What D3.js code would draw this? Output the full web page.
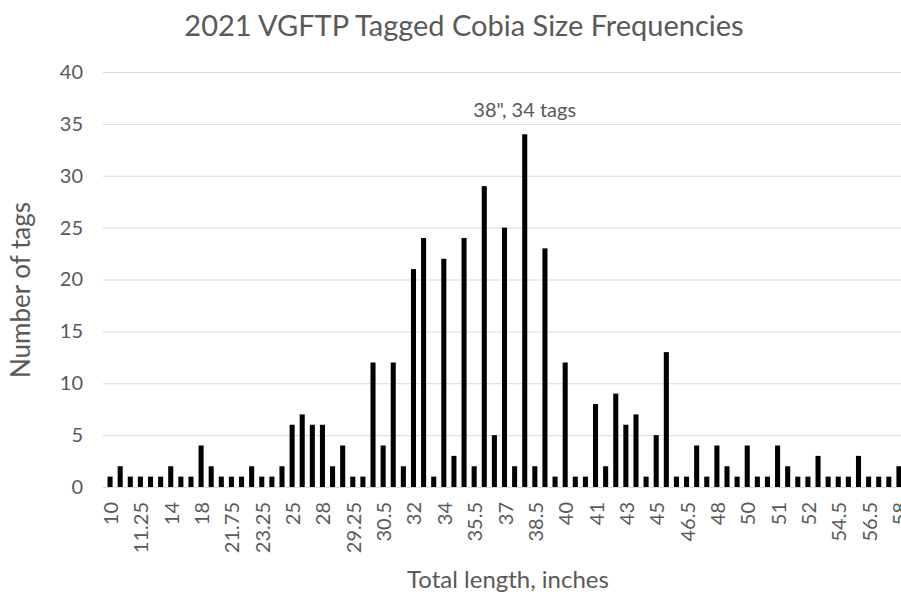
<!DOCTYPE html>
<html>
<head>
<meta charset="utf-8">
<script src="https://cdn.jsdelivr.net/npm/d3@7"></script>
<style>
  body { margin: 0; background: #fff; }
  svg text { font-family: Lato, "Open Sans", sans-serif; fill: #595959; }
</style>
</head>
<body>
<svg width="901" height="594"></svg>
<script>
// Size categories (inches); only every third one is labelled on the axis
const lengths = [
  "10", "10.5", "11", "11.25", "12", "13", "14", "15", "16", "18",
  "19", "20", "21.75", "22", "23", "23.25", "24", "24.5", "25", "26",
  "27", "28", "28.5", "29", "29.25", "29.5", "30", "30.5", "31", "31.5",
  "32", "32.5", "33", "34", "34.5", "35", "35.5", "36", "36.5", "37",
  "37.5", "38", "38.5", "39", "39.5", "40", "40.25", "40.5", "41", "41.5",
  "42", "43", "43.5", "44", "45", "45.5", "46", "46.5", "47", "47.5",
  "48", "48.5", "49", "50", "50.25", "50.5", "51", "51.25", "51.5", "52",
  "53", "54", "54.5", "55", "56", "56.5", "57", "57.5", "58"
];
const tags = [
  1, 2, 1, 1, 1, 1, 2, 1, 1, 4,
  2, 1, 1, 1, 2, 1, 1, 2, 6, 7,
  6, 6, 2, 4, 1, 1, 12, 4, 12, 2,
  21, 24, 1, 22, 3, 24, 2, 29, 5, 25,
  2, 34, 2, 23, 1, 12, 1, 1, 8, 2,
  9, 6, 7, 1, 5, 13, 1, 1, 4, 1,
  4, 2, 1, 4, 1, 1, 4, 2, 1, 1,
  3, 1, 1, 1, 3, 1, 1, 1, 2
];
const yTicks = [0, 5, 10, 15, 20, 25, 30, 35, 40];
const peak = { length: "38", count: 34, label: "38\", 34 tags" };

const svg = d3.select("svg");
const plotLeft = 105, plotRight = 904, plotTop = 72, plotBottom = 487;

const x = d3.scaleBand()
  .domain(lengths)
  .range([plotLeft, plotRight])
  .paddingInner(0.5)
  .paddingOuter(0.25);

const y = d3.scaleLinear()
  .domain([0, 40])
  .range([plotBottom, plotTop]);

// Gridlines
svg.append("g")
  .selectAll("line")
  .data(yTicks)
  .join("line")
  .attr("x1", 103)
  .attr("x2", 901)
  .attr("y1", d => y(d) + 0.5)
  .attr("y2", d => y(d) + 0.5)
  .attr("stroke", "#d9d9d9")
  .attr("stroke-width", 1);

// Y axis labels
const gy = svg.append("g")
  .attr("transform", "translate(83,0)")
  .call(d3.axisLeft(y).tickValues(yTicks).tickSize(0).tickPadding(0));
gy.select(".domain").remove();
gy.selectAll("text").style("font-size", "20px");

// Bars
svg.append("g")
  .selectAll("rect")
  .data(lengths)
  .join("rect")
  .attr("x", (d, i) => x(d))
  .attr("width", x.bandwidth())
  .attr("y", (d, i) => y(tags[i]))
  .attr("height", (d, i) => y(0) - y(tags[i]))
  .attr("fill", "#000");

// X axis labels (every third category)
const gx = svg.append("g")
  .attr("transform", `translate(0,${plotBottom})`)
  .call(d3.axisBottom(x)
    .tickValues(lengths.filter((d, i) => i % 3 === 0))
    .tickSize(0)
    .tickPadding(0));
gx.select(".domain").remove();
gx.selectAll("text")
  .style("font-size", "20px")
  .attr("text-anchor", "end")
  .attr("transform", "rotate(-90)")
  .attr("x", -15)
  .attr("y", 1)
  .attr("dy", "0.35em");

// Peak annotation
svg.append("text")
  .attr("x", x(peak.length) + x.bandwidth() / 2)
  .attr("y", y(peak.count) - 17)
  .attr("text-anchor", "middle")
  .style("font-size", "20px")
  .text(peak.label);

// Title
svg.append("text")
  .attr("x", 464)
  .attr("y", 36)
  .attr("text-anchor", "middle")
  .style("font-size", "29px")
  .text("2021 VGFTP Tagged Cobia Size Frequencies");

// Axis titles
svg.append("text")
  .attr("transform", "translate(30,290) rotate(-90)")
  .attr("text-anchor", "middle")
  .style("font-size", "26px")
  .text("Number of tags");

svg.append("text")
  .attr("x", 508)
  .attr("y", 588)
  .attr("text-anchor", "middle")
  .style("font-size", "24px")
  .text("Total length, inches");
</script>
</body>
</html>
